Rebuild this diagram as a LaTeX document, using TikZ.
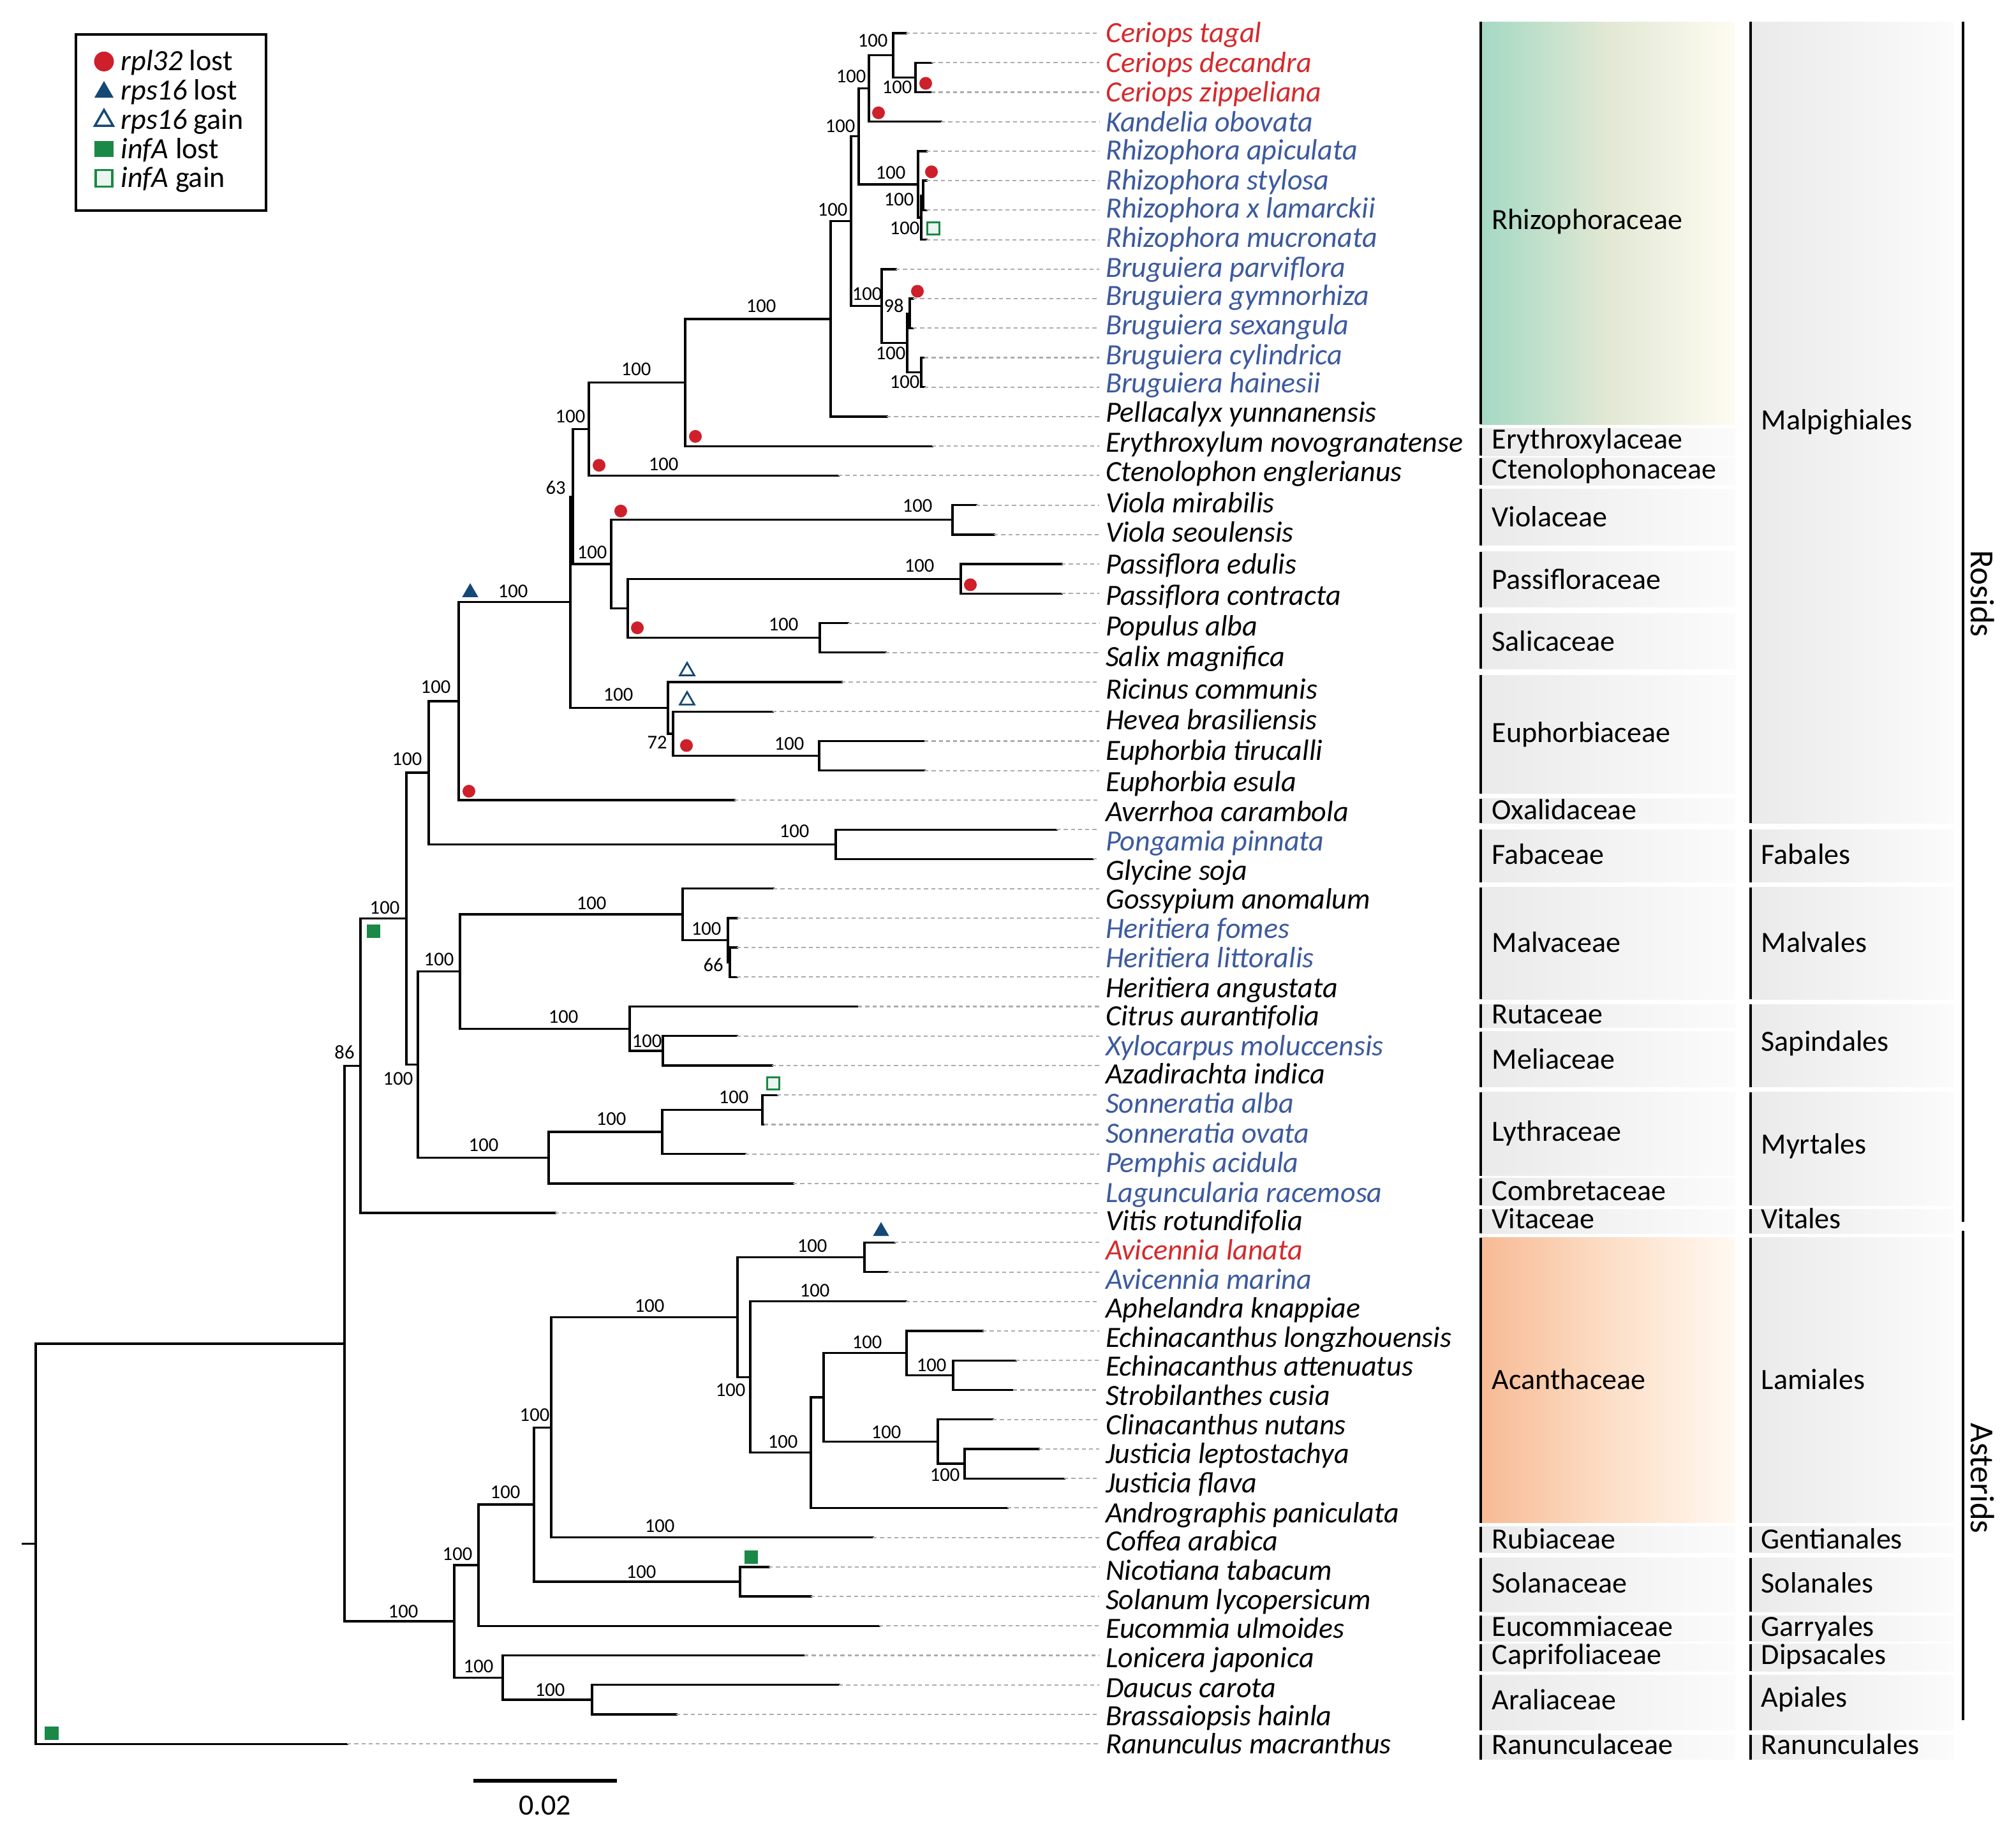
\documentclass[tikz,border=0pt]{standalone}
\usepackage{fontspec}
\setmainfont{Carlito}
\usetikzlibrary{shapes.geometric}

\definecolor{rplred}{RGB}{206,32,43}
\definecolor{rpsblue}{RGB}{22,72,118}
\definecolor{infgreen}{RGB}{26,136,70}
\definecolor{namered}{RGB}{212,42,44}
\definecolor{nameblue}{RGB}{60,90,158}
\definecolor{leadgray}{RGB}{172,172,172}
\definecolor{rhizoA}{RGB}{164,217,196}
\definecolor{rhizoB}{RGB}{226,232,212}
\definecolor{rhizoC}{RGB}{254,252,242}
\definecolor{acanA}{RGB}{247,186,149}
\definecolor{acanB}{RGB}{252,222,198}
\definecolor{acanC}{RGB}{255,249,242}
\definecolor{boxA}{RGB}{234,234,234}
\definecolor{boxC}{RGB}{251,251,251}

\begin{document}
\begin{tikzpicture}[
  x=0.01cm, y=-0.462cm,
  branch/.style={line width=0.95pt, line cap=rect},
  leader/.style={leadgray, line width=0.6pt, dash pattern=on 1.8pt off 1.4pt},
  taxon/.style={anchor=west, inner xsep=0.1cm, inner ysep=0pt, outer sep=0pt, font=\fontsize{13.1}{15}\selectfont\itshape, text height=8.4pt, text depth=0pt},
  redtaxon/.style={taxon, text=namered},
  bluetaxon/.style={taxon, text=nameblue},
  boot/.style={inner sep=0pt, font=\fontsize{8.7}{10}\selectfont, text height=5.6pt, text depth=0pt},
  grouplabel/.style={anchor=west, inner sep=0pt, font=\fontsize{13.1}{15}\selectfont, text height=8.2pt, text depth=0pt},
  grayfill/.style={left color=boxA, right color=boxC},
  groupbar/.style={line width=1.3pt},
  rpldot/.style={circle, fill=rplred, inner sep=0pt, minimum size=0.2cm},
  rpsloss/.style={regular polygon, regular polygon sides=3, fill=rpsblue, inner sep=0pt, minimum size=0.29cm},
  rpsgain/.style={regular polygon, regular polygon sides=3, draw=rpsblue, fill=white, line width=0.8pt, inner sep=0pt, minimum size=0.26cm},
  infloss/.style={rectangle, fill=infgreen, inner sep=0pt, minimum size=0.21cm},
  infgain/.style={rectangle, draw=infgreen, fill=infgreen!8, line width=0.8pt, inner sep=0pt, minimum size=0.19cm}
]
\useasboundingbox (0,-0.1255) rectangle (3160,62.082);

% Family boxes
\shade[left color=rhizoA, right color=rhizoC, middle color=rhizoB] (2321,0.616) rectangle (2720,14.27);
\shade[grayfill] (2321,14.40) rectangle (2720,15.32);
\shade[grayfill] (2321,15.40) rectangle (2720,16.32);
\shade[grayfill] (2321,16.45) rectangle (2720,18.37);
\shade[grayfill] (2321,18.58) rectangle (2720,20.46);
\shade[grayfill] (2321,20.68) rectangle (2720,22.55);
\shade[grayfill] (2321,22.77) rectangle (2720,26.78);
\shade[grayfill] (2321,26.95) rectangle (2720,27.78);
\shade[grayfill] (2321,28.00) rectangle (2720,29.79);
\shade[grayfill] (2321,29.96) rectangle (2720,33.76);
\shade[grayfill] (2321,33.93) rectangle (2720,34.72);
\shade[grayfill] (2321,34.85) rectangle (2720,36.73);
\shade[grayfill] (2321,36.90) rectangle (2720,39.74);
\shade[grayfill] (2321,39.82) rectangle (2720,40.74);
\shade[grayfill] (2321,40.87) rectangle (2720,41.70);
\shade[left color=acanA, right color=acanC, middle color=acanB] (2321,41.83) rectangle (2720,51.51);
\shade[grayfill] (2321,51.64) rectangle (2720,52.51);
\shade[grayfill] (2321,52.69) rectangle (2720,54.52);
\shade[grayfill] (2321,54.65) rectangle (2720,55.52);
\shade[grayfill] (2321,55.61) rectangle (2720,56.53);
\shade[grayfill] (2321,56.66) rectangle (2720,58.53);
\shade[grayfill] (2321,58.70) rectangle (2720,59.53);
\draw[groupbar] (2321,0.616) -- (2321,14.27) (2321,14.40) -- (2321,15.32)
  (2321,15.40) -- (2321,16.32) (2321,16.45) -- (2321,18.37)
  (2321,18.58) -- (2321,20.46) (2321,20.68) -- (2321,22.55)
  (2321,22.77) -- (2321,26.78) (2321,26.95) -- (2321,27.78)
  (2321,28.00) -- (2321,29.79) (2321,29.96) -- (2321,33.76)
  (2321,33.93) -- (2321,34.72) (2321,34.85) -- (2321,36.73)
  (2321,36.90) -- (2321,39.74) (2321,39.82) -- (2321,40.74)
  (2321,40.87) -- (2321,41.70) (2321,41.83) -- (2321,51.51)
  (2321,51.64) -- (2321,52.51) (2321,52.69) -- (2321,54.52)
  (2321,54.65) -- (2321,55.52) (2321,55.61) -- (2321,56.53)
  (2321,56.66) -- (2321,58.53) (2321,58.70) -- (2321,59.53);
\node[grouplabel] (fRhizo) at (2338,7.33) {Rhizophoraceae};
\node[grouplabel] (fErythro) at (2338,14.79) {Erythroxylaceae};
\node[grouplabel] (fCteno) at (2338,15.79) {Ctenolophonaceae};
\node[grouplabel] (fViol) at (2338,17.41) {Violaceae};
\node[grouplabel] (fPassi) at (2338,19.54) {Passifloraceae};
\node[grouplabel] (fSalic) at (2338,21.64) {Salicaceae};
\node[grouplabel] (fEuph) at (2338,24.73) {Euphorbiaceae};
\node[grouplabel] (fOxal) at (2338,27.35) {Oxalidaceae};
\node[grouplabel] (fFab) at (2338,28.87) {Fabaceae};
\node[grouplabel] (fMalv) at (2338,31.84) {Malvaceae};
\node[grouplabel] (fRut) at (2338,34.28) {Rutaceae};
\node[grouplabel] (fMel) at (2338,35.81) {Meliaceae};
\node[grouplabel] (fLyth) at (2338,38.25) {Lythraceae};
\node[grouplabel] (fComb) at (2338,40.26) {Combretaceae};
\node[grouplabel] (fVit) at (2338,41.22) {Vitaceae};
\node[grouplabel] (fAcan) at (2338,46.67) {Acanthaceae};
\node[grouplabel] (fRub) at (2338,52.08) {Rubiaceae};
\node[grouplabel] (fSol) at (2338,53.56) {Solanaceae};
\node[grouplabel] (fEuc) at (2338,55.04) {Eucommiaceae};
\node[grouplabel] (fCapr) at (2338,56.0) {Caprifoliaceae};
\node[grouplabel] (fAral) at (2338,57.53) {Araliaceae};
\node[grouplabel] (fRan) at (2338,59.05) {Ranunculaceae};

% Order boxes
\shade[grayfill] (2744,0.616) rectangle (3062,27.78);
\shade[grayfill] (2744,28.00) rectangle (3062,29.79);
\shade[grayfill] (2744,29.96) rectangle (3062,33.76);
\shade[grayfill] (2744,33.93) rectangle (3062,36.73);
\shade[grayfill] (2744,36.90) rectangle (3062,40.74);
\shade[grayfill] (2744,40.87) rectangle (3062,41.70);
\shade[grayfill] (2744,41.83) rectangle (3062,51.51);
\shade[grayfill] (2744,51.64) rectangle (3062,52.51);
\shade[grayfill] (2744,52.69) rectangle (3062,54.52);
\shade[grayfill] (2744,54.65) rectangle (3062,55.52);
\shade[grayfill] (2744,55.61) rectangle (3062,56.53);
\shade[grayfill] (2744,56.66) rectangle (3062,58.53);
\shade[grayfill] (2744,58.70) rectangle (3062,59.53);
\draw[groupbar] (2744,0.616) -- (2744,27.78) (2744,28.00) -- (2744,29.79)
  (2744,29.96) -- (2744,33.76) (2744,33.93) -- (2744,36.73)
  (2744,36.90) -- (2744,40.74) (2744,40.87) -- (2744,41.70)
  (2744,41.83) -- (2744,51.51) (2744,51.64) -- (2744,52.51)
  (2744,52.69) -- (2744,54.52) (2744,54.65) -- (2744,55.52)
  (2744,55.61) -- (2744,56.53) (2744,56.66) -- (2744,58.53)
  (2744,58.70) -- (2744,59.53);
\node[grouplabel] (oMalp) at (2760,14.14) {Malpighiales};
\node[grouplabel] (oFab) at (2760,28.87) {Fabales};
\node[grouplabel] (oMalv) at (2760,31.84) {Malvales};
\node[grouplabel] (oSap) at (2760,35.2) {Sapindales};
\node[grouplabel] (oMyrt) at (2760,38.69) {Myrtales};
\node[grouplabel] (oVit) at (2760,41.22) {Vitales};
\node[grouplabel] (oLam) at (2760,46.67) {Lamiales};
\node[grouplabel] (oGent) at (2760,52.08) {Gentianales};
\node[grouplabel] (oSol) at (2760,53.56) {Solanales};
\node[grouplabel] (oGarr) at (2760,55.04) {Garryales};
\node[grouplabel] (oDips) at (2760,56.0) {Dipsacales};
\node[grouplabel] (oApi) at (2760,57.44) {Apiales};
\node[grouplabel] (oRan) at (2760,59.05) {Ranunculales};

% Rosids / Asterids
\draw[groupbar] (3077,0.616) -- (3077,41.3) (3077,41.6) -- (3077,58.2);
\node[rotate=-90, inner sep=0pt, font=\fontsize{15}{18}\selectfont] (rosids) at (3108,20.0) {Rosids};
\node[rotate=-90, inner sep=0pt, font=\fontsize{15}{18}\selectfont] (asterids) at (3108,50.0) {Asterids};

% Tips
\coordinate (t1) at (1420,1);   \coordinate (t2) at (1460,2);   \coordinate (t3) at (1460,3);
\coordinate (t4) at (1475,4);   \coordinate (t5) at (1452,5);   \coordinate (t6) at (1452,6);
\coordinate (t7) at (1452,7);   \coordinate (t8) at (1452,8);   \coordinate (t9) at (1404,9);
\coordinate (t10) at (1431,10); \coordinate (t11) at (1431,11); \coordinate (t12) at (1449,12);
\coordinate (t13) at (1449,13); \coordinate (t14) at (1390,14); \coordinate (t15) at (1461,15);
\coordinate (t16) at (1314,16); \coordinate (t17) at (1530,17); \coordinate (t18) at (1558,18);
\coordinate (t19) at (1664,19); \coordinate (t20) at (1664,20); \coordinate (t21) at (1329,21);
\coordinate (t22) at (1388,22); \coordinate (t23) at (1319,23); \coordinate (t24) at (1211,24);
\coordinate (t25) at (1449,25); \coordinate (t26) at (1449,26); \coordinate (t27) at (1151,27);
\coordinate (t28) at (1656,28); \coordinate (t29) at (1713,29); \coordinate (t30) at (1212,30);
\coordinate (t31) at (1155,31); \coordinate (t32) at (1155,32); \coordinate (t33) at (1155,33);
\coordinate (t34) at (1345,34); \coordinate (t35) at (1155,35); \coordinate (t36) at (1210,36);
\coordinate (t37) at (1218,37); \coordinate (t38) at (1198,38); \coordinate (t39) at (1168,39);
\coordinate (t40) at (1243,40); \coordinate (t41) at (870,41);  \coordinate (t42) at (1402,42);
\coordinate (t43) at (1391,43); \coordinate (t44) at (1420,44); \coordinate (t45) at (1540,45);
\coordinate (t46) at (1592,46); \coordinate (t47) at (1588,47); \coordinate (t48) at (1556,48);
\coordinate (t49) at (1628,49); \coordinate (t50) at (1668,50); \coordinate (t51) at (1579,51);
\coordinate (t52) at (1368,52); \coordinate (t53) at (1205,53); \coordinate (t54) at (1271,54);
\coordinate (t55) at (1378,55); \coordinate (t56) at (1261,56); \coordinate (t57) at (1315,57);
\coordinate (t58) at (1060,58); \coordinate (t59) at (544,59);

% Internal nodes
\coordinate (rootstub) at (36,52.21);
\coordinate (root) at (56,52.21);
\coordinate (n86) at (540,45.43);
\coordinate (rosid) at (565,36.01);
\coordinate (r2) at (637,31.02);
\coordinate (r3) at (672,26.07);
\coordinate (tri) at (719,23.645);
\coordinate (na) at (894,20.29);
\coordinate (nb) at (898,16.71);
\coordinate (mtop) at (923,14.42);
\coordinate (re) at (1074,12.84);
\coordinate (rh) at (1302,10.6875);
\coordinate (rh2) at (1334,7.375);
\coordinate (rh3) at (1346,4.5);
\coordinate (ck) at (1362,2.875);
\coordinate (cer) at (1400,1.75);
\coordinate (cdz) at (1435,2.5);
\coordinate (rz1) at (1439,6.125);
\coordinate (rz2) at (1444,7.25);
\coordinate (rz3) at (1447,6.5);
\coordinate (bru1) at (1382,10.25);
\coordinate (bru2) at (1422,11.5);
\coordinate (bgs) at (1426,10.5);
\coordinate (bru3) at (1444,12.5);
\coordinate (vps) at (958,19);
\coordinate (vio) at (1493,17.5);
\coordinate (ps) at (984,20.5);
\coordinate (pas) at (1506,19.5);
\coordinate (sal) at (1285,21.5);
\coordinate (eu1) at (1047,23.875);
\coordinate (eu2) at (1055,24.75);
\coordinate (eu3) at (1284,25.5);
\coordinate (fab) at (1310,28.5);
\coordinate (msm) at (655,35.97);
\coordinate (malsap) at (721,32.81);
\coordinate (mv) at (1070,30.875);
\coordinate (her1) at (1141,31.75);
\coordinate (her2) at (1144,32.5);
\coordinate (sap) at (987,34.75);
\coordinate (mel) at (1039,35.5);
\coordinate (myr) at (860,39.125);
\coordinate (lyt) at (1038,38.25);
\coordinate (son) at (1195,37.5);
\coordinate (aster) at (712,54.845);
\coordinate (as2) at (750,52.94);
\coordinate (as3) at (837,50.88);
\coordinate (as4) at (864,48.27);
\coordinate (ac1) at (1156,44.53);
\coordinate (avi) at (1355,42.5);
\coordinate (ac2) at (1176,46.5625);
\coordinate (ac3) at (1271,49.125);
\coordinate (ac4) at (1291,47.25);
\coordinate (ech) at (1421,45.75);
\coordinate (ech2) at (1494,46.5);
\coordinate (jus) at (1470,48.75);
\coordinate (jus2) at (1512,49.5);
\coordinate (sol) at (1160,53.5);
\coordinate (ad) at (788,56.75);
\coordinate (api) at (928,57.5);

% Branches
\draw[branch] (rootstub) -- (root);
\draw[branch] (root) |- (n86) (root) |- (t59);
\draw[branch] (n86) |- (rosid) (n86) |- (aster);
\draw[branch] (rosid) |- (r2) (rosid) |- (t41);
\draw[branch] (r2) |- (r3) (r2) |- (msm);
\draw[branch] (r3) |- (tri) (r3) |- (fab);
\draw[branch] (tri) |- (na) (tri) |- (t27);
\draw[branch] (na) |- (nb) (na) |- (eu1);
\draw[branch] (nb) |- (mtop) (nb) |- (vps);
\draw[branch] (mtop) |- (re) (mtop) |- (t16);
\draw[branch] (re) |- (rh) (re) |- (t15);
\draw[branch] (rh) |- (rh2) (rh) |- (t14);
\draw[branch] (rh2) |- (rh3) (rh2) |- (bru1);
\draw[branch] (rh3) |- (ck) (rh3) |- (rz1);
\draw[branch] (ck) |- (cer) (ck) |- (t4);
\draw[branch] (cer) |- (t1) (cer) |- (cdz);
\draw[branch] (cdz) |- (t2) (cdz) |- (t3);
\draw[branch] (rz1) |- (t5) (rz1) |- (rz2);
\draw[branch] (rz2) |- (rz3) (rz2) |- (t8);
\draw[branch] (rz3) |- (t6) (rz3) |- (t7);
\draw[branch] (bru1) |- (t9) (bru1) |- (bru2);
\draw[branch] (bru2) |- (bgs) (bru2) |- (bru3);
\draw[branch] (bgs) |- (t10) (bgs) |- (t11);
\draw[branch] (bru3) |- (t12) (bru3) |- (t13);
\draw[branch] (vps) |- (vio) (vps) |- (ps);
\draw[branch] (vio) |- (t17) (vio) |- (t18);
\draw[branch] (ps) |- (pas) (ps) |- (sal);
\draw[branch] (pas) |- (t19) (pas) |- (t20);
\draw[branch] (sal) |- (t21) (sal) |- (t22);
\draw[branch] (eu1) |- (t23) (eu1) |- (eu2);
\draw[branch] (eu2) |- (t24) (eu2) |- (eu3);
\draw[branch] (eu3) |- (t25) (eu3) |- (t26);
\draw[branch] (fab) |- (t28) (fab) |- (t29);
\draw[branch] (msm) |- (malsap) (msm) |- (myr);
\draw[branch] (malsap) |- (mv) (malsap) |- (sap);
\draw[branch] (mv) |- (t30) (mv) |- (her1);
\draw[branch] (her1) |- (t31) (her1) |- (her2);
\draw[branch] (her2) |- (t32) (her2) |- (t33);
\draw[branch] (sap) |- (t34) (sap) |- (mel);
\draw[branch] (mel) |- (t35) (mel) |- (t36);
\draw[branch] (myr) |- (lyt) (myr) |- (t40);
\draw[branch] (lyt) |- (son) (lyt) |- (t39);
\draw[branch] (son) |- (t37) (son) |- (t38);
\draw[branch] (aster) |- (as2) (aster) |- (ad);
\draw[branch] (as2) |- (as3) (as2) |- (t55);
\draw[branch] (as3) |- (as4) (as3) |- (sol);
\draw[branch] (as4) |- (ac1) (as4) |- (t52);
\draw[branch] (ac1) |- (avi) (ac1) |- (ac2);
\draw[branch] (avi) |- (t42) (avi) |- (t43);
\draw[branch] (ac2) |- (t44) (ac2) |- (ac3);
\draw[branch] (ac3) |- (ac4) (ac3) |- (t51);
\draw[branch] (ac4) |- (ech) (ac4) |- (jus);
\draw[branch] (ech) |- (t45) (ech) |- (ech2);
\draw[branch] (ech2) |- (t46) (ech2) |- (t47);
\draw[branch] (jus) |- (t48) (jus) |- (jus2);
\draw[branch] (jus2) |- (t49) (jus2) |- (t50);
\draw[branch] (sol) |- (t53) (sol) |- (t54);
\draw[branch] (ad) |- (t56) (ad) |- (api);
\draw[branch] (api) |- (t57) (api) |- (t58);

% Taxa
\node[redtaxon] (l1) at (1723,1.0) {Ceriops tagal};
\node[redtaxon] (l2) at (1723,2.01) {Ceriops decandra};
\node[redtaxon] (l3) at (1723,3.01) {Ceriops zippeliana};
\node[bluetaxon] (l4) at (1723,4.02) {Kandelia obovata};
\node[bluetaxon] (l5) at (1723,4.98) {Rhizophora apiculata};
\node[bluetaxon] (l6) at (1723,5.98) {Rhizophora stylosa};
\node[bluetaxon] (l7) at (1723,6.94) {Rhizophora x lamarckii};
\node[bluetaxon] (l8) at (1723,7.94) {Rhizophora mucronata};
\node[bluetaxon] (l9) at (1723,8.95) {Bruguiera parviflora};
\node[bluetaxon] (l10) at (1723,9.9) {Bruguiera gymnorhiza};
\node[bluetaxon] (l11) at (1723,10.91) {Bruguiera sexangula};
\node[bluetaxon] (l12) at (1723,11.91) {Bruguiera cylindrica};
\node[bluetaxon] (l13) at (1723,12.87) {Bruguiera hainesii};
\node[taxon] (l14) at (1723,13.87) {Pellacalyx yunnanensis};
\node[taxon] (l15) at (1723,14.88) {Erythroxylum novogranatense};
\node[taxon] (l16) at (1723,15.88) {Ctenolophon englerianus};
\node[taxon] (l17) at (1723,16.93) {Viola mirabilis};
\node[taxon] (l18) at (1723,17.93) {Viola seoulensis};
\node[taxon] (l19) at (1723,19.02) {Passiflora edulis};
\node[taxon] (l20) at (1723,20.07) {Passiflora contracta};
\node[taxon] (l21) at (1723,21.11) {Populus alba};
\node[taxon] (l22) at (1723,22.16) {Salix magnifica};
\node[taxon] (l23) at (1723,23.25) {Ricinus communis};
\node[taxon] (l24) at (1723,24.3) {Hevea brasiliensis};
\node[taxon] (l25) at (1723,25.34) {Euphorbia tirucalli};
\node[taxon] (l26) at (1723,26.39) {Euphorbia esula};
\node[taxon] (l27) at (1723,27.4) {Averrhoa carambola};
\node[bluetaxon] (l28) at (1723,28.4) {Pongamia pinnata};
\node[taxon] (l29) at (1723,29.4) {Glycine soja};
\node[taxon] (l30) at (1723,30.36) {Gossypium anomalum};
\node[bluetaxon] (l31) at (1723,31.37) {Heritiera fomes};
\node[bluetaxon] (l32) at (1723,32.37) {Heritiera littoralis};
\node[taxon] (l33) at (1723,33.37) {Heritiera angustata};
\node[taxon] (l34) at (1723,34.33) {Citrus aurantifolia};
\node[bluetaxon] (l35) at (1723,35.34) {Xylocarpus moluccensis};
\node[taxon] (l36) at (1723,36.29) {Azadirachta indica};
\node[bluetaxon] (l37) at (1723,37.3) {Sonneratia alba};
\node[bluetaxon] (l38) at (1723,38.3) {Sonneratia ovata};
\node[bluetaxon] (l39) at (1723,39.31) {Pemphis acidula};
\node[bluetaxon] (l40) at (1723,40.31) {Laguncularia racemosa};
\node[taxon] (l41) at (1723,41.27) {Vitis rotundifolia};
\node[redtaxon] (l42) at (1723,42.27) {Avicennia lanata};
\node[bluetaxon] (l43) at (1723,43.27) {Avicennia marina};
\node[taxon] (l44) at (1723,44.23) {Aphelandra knappiae};
\node[taxon] (l45) at (1723,45.24) {Echinacanthus longzhouensis};
\node[taxon] (l46) at (1723,46.2) {Echinacanthus attenuatus};
\node[taxon] (l47) at (1723,47.2) {Strobilanthes cusia};
\node[taxon] (l48) at (1723,48.2) {Clinacanthus nutans};
\node[taxon] (l49) at (1723,49.16) {Justicia leptostachya};
\node[taxon] (l50) at (1723,50.17) {Justicia flava};
\node[taxon] (l51) at (1723,51.17) {Andrographis paniculata};
\node[taxon] (l52) at (1723,52.13) {Coffea arabica};
\node[taxon] (l53) at (1723,53.13) {Nicotiana tabacum};
\node[taxon] (l54) at (1723,54.13) {Solanum lycopersicum};
\node[taxon] (l55) at (1723,55.09) {Eucommia ulmoides};
\node[taxon] (l56) at (1723,56.1) {Lonicera japonica};
\node[taxon] (l57) at (1723,57.1) {Daucus carota};
\node[taxon] (l58) at (1723,58.06) {Brassaiopsis hainla};
\node[taxon] (l59) at (1723,59.02) {Ranunculus macranthus};

% Leaders
\draw[leader] (t1) -- (t1 -| l1.west) (t2) -- (t2 -| l2.west) (t3) -- (t3 -| l3.west)
  (t4) -- (t4 -| l4.west) (t5) -- (t5 -| l5.west) (t6) -- (t6 -| l6.west)
  (t7) -- (t7 -| l7.west) (t8) -- (t8 -| l8.west) (t9) -- (t9 -| l9.west)
  (t10) -- (t10 -| l10.west) (t11) -- (t11 -| l11.west) (t12) -- (t12 -| l12.west)
  (t13) -- (t13 -| l13.west) (t14) -- (t14 -| l14.west) (t15) -- (t15 -| l15.west)
  (t16) -- (t16 -| l16.west) (t17) -- (t17 -| l17.west) (t18) -- (t18 -| l18.west)
  (t19) -- (t19 -| l19.west) (t20) -- (t20 -| l20.west) (t21) -- (t21 -| l21.west)
  (t22) -- (t22 -| l22.west) (t23) -- (t23 -| l23.west) (t24) -- (t24 -| l24.west)
  (t25) -- (t25 -| l25.west) (t26) -- (t26 -| l26.west) (t27) -- (t27 -| l27.west)
  (t28) -- (t28 -| l28.west) (t29) -- (t29 -| l29.west) (t30) -- (t30 -| l30.west)
  (t31) -- (t31 -| l31.west) (t32) -- (t32 -| l32.west) (t33) -- (t33 -| l33.west)
  (t34) -- (t34 -| l34.west) (t35) -- (t35 -| l35.west) (t36) -- (t36 -| l36.west)
  (t37) -- (t37 -| l37.west) (t38) -- (t38 -| l38.west) (t39) -- (t39 -| l39.west)
  (t40) -- (t40 -| l40.west) (t41) -- (t41 -| l41.west) (t42) -- (t42 -| l42.west)
  (t43) -- (t43 -| l43.west) (t44) -- (t44 -| l44.west) (t45) -- (t45 -| l45.west)
  (t46) -- (t46 -| l46.west) (t47) -- (t47 -| l47.west) (t48) -- (t48 -| l48.west)
  (t49) -- (t49 -| l49.west) (t50) -- (t50 -| l50.west) (t51) -- (t51 -| l51.west)
  (t52) -- (t52 -| l52.west) (t53) -- (t53 -| l53.west) (t54) -- (t54 -| l54.west)
  (t55) -- (t55 -| l55.west) (t56) -- (t56 -| l56.west) (t57) -- (t57 -| l57.west)
  (t58) -- (t58 -| l58.west) (t59) -- (t59 -| l59.west);

% Bootstrap values
\node[boot] (b1) at (1368,1.25) {100};
\node[boot] (b2) at (1334,2.46) {100};
\node[boot] (b3) at (1406,2.84) {100};
\node[boot] (b4) at (1317,4.15) {100};
\node[boot] (b5) at (1396,5.72) {100};
\node[boot] (b6) at (1409,6.63) {100};
\node[boot] (b7) at (1418,7.62) {100};
\node[boot] (b8) at (1305,6.98) {100};
\node[boot] (b9) at (1359,9.85) {100};
\node[boot] (b10) at (1401,10.26) {98};
\node[boot] (b11) at (1396,11.86) {100};
\node[boot] (b12) at (1418,12.82) {100};
\node[boot] (b13) at (1193,10.26) {100};
\node[boot] (b14) at (997,12.39) {100};
\node[boot] (b15) at (894,14.0) {100};
\node[boot] (b16) at (1040,15.61) {100};
\node[boot] (b17) at (871,16.42) {63};
\node[boot] (b18) at (1438,17.03) {100};
\node[boot] (b19) at (928,18.6) {100};
\node[boot] (b20) at (1441,19.06) {100};
\node[boot] (b21) at (1228,21.04) {100};
\node[boot] (b22) at (969,23.43) {100};
\node[boot] (b23) at (1030,25.05) {72};
\node[boot] (b24) at (1237,25.1) {100};
\node[boot] (b25) at (804,19.91) {100};
\node[boot] (b26) at (683,23.17) {100};
\node[boot] (b27) at (638,25.6) {100};
\node[boot] (b28) at (603,30.65) {100};
\node[boot] (b29) at (540,35.57) {86};
\node[boot] (b30) at (688,32.4) {100};
\node[boot] (b31) at (624,36.45) {100};
\node[boot] (b32) at (758,38.69) {100};
\node[boot] (b33) at (927,30.5) {100};
\node[boot] (b34) at (883,34.35) {100};
\node[boot] (b35) at (958,37.82) {100};
\node[boot] (b36) at (1245,28.05) {100};
\node[boot] (b37) at (1107,31.36) {100};
\node[boot] (b38) at (1118,32.6) {66};
\node[boot] (b39) at (1014,35.17) {100};
\node[boot] (b40) at (1150,37.07) {100};
\node[boot] (b41) at (1273,42.12) {100};
\node[boot] (b42) at (1277,43.62) {100};
\node[boot] (b43) at (1359,45.39) {100};
\node[boot] (b44) at (1460,46.17) {100};
\node[boot] (b45) at (1145,47.0) {100};
\node[boot] (b46) at (1389,48.44) {100};
\node[boot] (b47) at (1227,48.75) {100};
\node[boot] (b48) at (1481,49.88) {100};
\node[boot] (b49) at (792,50.46) {100};
\node[boot] (b50) at (1034,51.62) {100};
\node[boot] (b51) at (717,52.56) {100};
\node[boot] (b52) at (1005,53.17) {100};
\node[boot] (b53) at (632,54.5) {100};
\node[boot] (b54) at (750,56.38) {100};
\node[boot] (b55) at (862,57.18) {100};
\node[boot] (b56) at (1018,44.14) {100};
\node[boot] (b57) at (838,47.85) {100};

% Gene events
\node[rpldot] (d1) at (1451,2.7) {};
\node[rpldot] (d2) at (1377,3.7) {};
\node[rpldot] (d3) at (1460,5.7) {};
\node[rpldot] (d4) at (1438,9.75) {};
\node[rpldot] (d5) at (1090,14.67) {};
\node[rpldot] (d6) at (939,15.65) {};
\node[rpldot] (d7) at (973,17.2) {};
\node[rpldot] (d8) at (1521,19.7) {};
\node[rpldot] (d9) at (999,21.16) {};
\node[rpldot] (d10) at (1076,25.15) {};
\node[rpldot] (d11) at (735,26.7) {};
\node[rpsgain] (g1) at (1077,22.63) {};
\node[rpsgain] (g2) at (1077,23.62) {};
\node[rpsloss] (k1) at (737,19.96) {};
\node[rpsloss] (k2) at (1381,41.62) {};
\node[infloss] (s1) at (585,31.44) {};
\node[infloss] (s2) at (1177,52.66) {};
\node[infloss] (s3) at (81,58.64) {};
\node[infgain] (q1) at (1463,7.62) {};
\node[infgain] (q2) at (1212,36.61) {};

% Legend
\draw[line width=1pt] (119,1.043) rectangle (417,7.017);
\node[rpldot, minimum size=0.31cm] (key1) at (163,1.96) {};
\node[rpsloss, minimum size=0.35cm] (key2) at (163,3.0) {};
\node[rpsgain, minimum size=0.33cm, line width=1pt] (key3) at (163,3.96) {};
\node[infloss, minimum width=0.29cm, minimum height=0.25cm] (key4) at (163,4.93) {};
\node[infgain, minimum size=0.26cm, line width=1pt] (key5) at (163,5.92) {};
\node[grouplabel] (keytext1) at (189,1.96) {\textit{rpl32} lost};
\node[grouplabel] (keytext2) at (189,2.95) {\textit{rps16} lost};
\node[grouplabel] (keytext3) at (189,3.94) {\textit{rps16} gain};
\node[grouplabel] (keytext4) at (189,4.93) {\textit{infA} lost};
\node[grouplabel] (keytext5) at (189,5.92) {\textit{infA} gain};

% Scale bar
\coordinate (sbl) at (742,60.26);
\coordinate (sbr) at (967,60.26);
\draw[line width=1.7pt] (sbl) -- (sbr);
\node[inner sep=0pt, font=\fontsize{13.1}{15}\selectfont] (scalelab) at (854,61.09) {0.02};
\end{tikzpicture}
\end{document}
